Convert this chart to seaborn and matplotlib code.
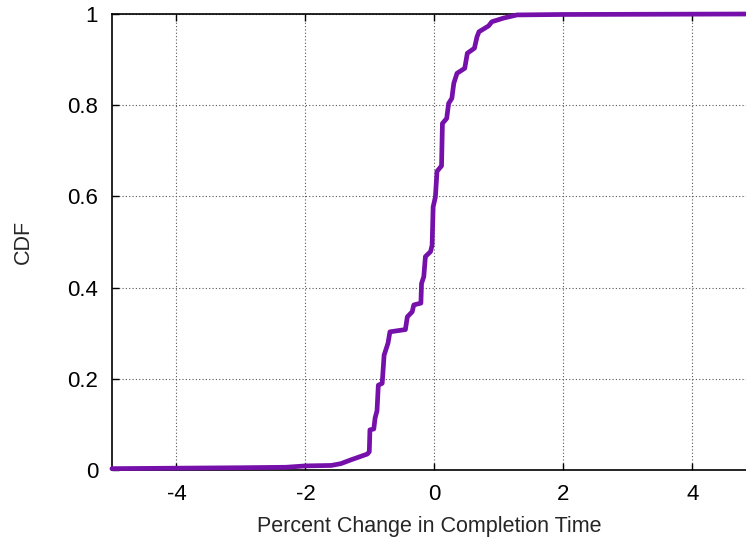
import matplotlib
matplotlib.use("Agg")
import matplotlib.pyplot as plt
import seaborn as sns
import pandas as pd

# Corner points of the empirical CDF (x = percent change, y = CDF)
pct_change = [-5.0, -4.0, -3.0, -2.3, -2.0, -1.6, -1.45, -1.30, -1.04,
              -1.01, -1.00, -0.94, -0.92, -0.89, -0.87, -0.81, -0.78, -0.72,
              -0.69, -0.45, -0.42, -0.345, -0.32, -0.21, -0.20, -0.165, -0.14,
              -0.06, -0.036, -0.02, 0.015, 0.04, 0.11, 0.124, 0.19, 0.22,
              0.27, 0.30, 0.35, 0.47, 0.51, 0.62, 0.66, 0.69, 0.84,
              0.89, 1.07, 1.28, 2.0, 4.83]
cdf = [0.003, 0.004, 0.005, 0.006, 0.009, 0.010, 0.014, 0.022, 0.035,
       0.040, 0.088, 0.090, 0.114, 0.130, 0.186, 0.190, 0.252, 0.278,
       0.303, 0.308, 0.336, 0.347, 0.362, 0.366, 0.409, 0.424, 0.468,
       0.479, 0.493, 0.577, 0.599, 0.655, 0.667, 0.760, 0.771, 0.804,
       0.815, 0.848, 0.870, 0.881, 0.914, 0.925, 0.950, 0.961, 0.974,
       0.983, 0.991, 0.998, 0.999, 1.0]

x_ticks = [-4, -2, 0, 2, 4]
y_ticks = [0, 0.2, 0.4, 0.6, 0.8, 1]
y_tick_labels = ["0", "0.2", "0.4", "0.6", "0.8", "1"]

sns.set_style("white")
plt.rcParams['font.family'] = ['Liberation Sans', 'DejaVu Sans']

df = pd.DataFrame({"x": pct_change, "y": cdf})

fig = plt.figure(figsize=(7.46, 5.39), dpi=100)
ax = fig.add_axes([0.150, 0.128, 0.850, 0.846])

sns.lineplot(data=df, x="x", y="y", ax=ax, color="#7610aa", linewidth=3.4,
             zorder=3, clip_on=False, sort=False)

ax.set_xlim(-5, 4.83)
ax.set_ylim(0, 1)
ax.set_xticks(x_ticks)
ax.set_xticklabels([str(t) for t in x_ticks])
ax.set_yticks(y_ticks)
ax.set_yticklabels(y_tick_labels)

ax.grid(True, linestyle=(0, (1, 2)), color="#555555", linewidth=0.8)
ax.tick_params(axis="both", direction="in", length=5, width=1, colors="black",
               labelsize=16, top=True, right=False, bottom=True, left=True)
ax.tick_params(axis="x", pad=10)
ax.tick_params(axis="y", pad=10)

for side in ["left", "bottom", "top"]:
    ax.spines[side].set_visible(True)
    ax.spines[side].set_color("black")
    ax.spines[side].set_linewidth(1.2)
ax.spines["right"].set_visible(False)

ax.set_xlabel("Percent Change in Completion Time", fontsize=15.5, labelpad=8)
ax.set_ylabel("CDF", fontsize=15.5, labelpad=24)

fig.savefig("out.png", dpi=100)
